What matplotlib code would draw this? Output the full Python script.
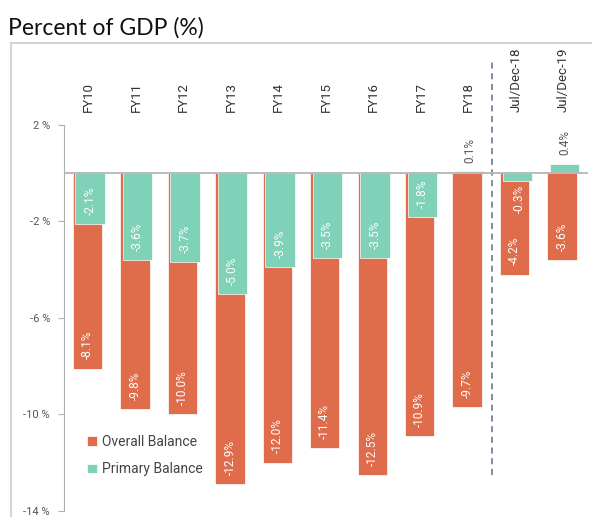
import matplotlib
matplotlib.use("Agg")
import matplotlib.pyplot as plt
from matplotlib.patches import Rectangle
import numpy as np

categories = ["FY10", "FY11", "FY12", "FY13", "FY14", "FY15", "FY16", "FY17", "FY18",
              "Jul/Dec-18", "Jul/Dec-19"]
overall = [-8.1, -9.8, -10.0, -12.9, -12.0, -11.4, -12.5, -10.9, -9.7, -4.2, -3.6]
primary = [-2.1, -3.6, -3.7, -5.0, -3.9, -3.5, -3.5, -1.8, 0.1, -0.3, 0.4]
yticks = [2, -2, -6, -10, -14]
ytick_labels = ["2 %", "-2 %", "-6 %", "-10 %", "-14 %"]
title = "Percent of GDP (%)"
series_names = ["Overall Balance", "Primary Balance"]

ORANGE = "#DF6D4B"
TEAL = "#7FD1B8"
GRAY = "#555555"

plt.rcParams['font.family'] = ['Roboto', 'DejaVu Sans']

fig = plt.figure(figsize=(5.92, 5.17), dpi=100)
ax = fig.add_axes([64/592, 1-510.7/517, (588-64)/592, (510.7-125.1)/517])

x = np.arange(len(categories))
w = 0.62
d = 0.028
b1 = ax.bar(x - d, overall, width=w, color=ORANGE, edgecolor="white", linewidth=0.5,
            label=series_names[0], zorder=2)
b2 = ax.bar(x + d, primary, width=w, color=TEAL, edgecolor="white", linewidth=0.5,
            label=series_names[1], zorder=3)

ax.set_xlim(-0.524, len(categories) - 0.48)
ax.set_ylim(-14, 2)

# zero line
ax.axhline(0, color="#b5b5b5", lw=1.3, zorder=4)

# value labels
def label_bars(xs, vals):
    for xi, v in zip(xs, vals):
        txt = f"{v:.1f}%"
        if v >= 0:
            ax.annotate(txt, (xi, v), xytext=(0, 6), textcoords="offset points",
                        rotation=90, ha="center", va="bottom", fontsize=8.5,
                        color=GRAY, zorder=5, annotation_clip=False)
        elif abs(v) < 1:
            ax.annotate(txt, (xi, v), xytext=(1.5, -3), textcoords="offset points",
                        rotation=90, ha="center", va="top", fontsize=8.5,
                        color="white", zorder=5)
        else:
            ax.annotate(txt, (xi, v), xytext=(0, 6.5), textcoords="offset points",
                        rotation=90, ha="center", va="bottom", fontsize=8.5,
                        color="white", zorder=5)

label_bars(x - d, overall)
label_bars(x + d, primary)

# category labels on top
for xi, c in zip(x, categories):
    ax.text(xi, 2.55, c, rotation=90, ha="center", va="bottom", fontsize=9.5,
            color="#333333", clip_on=False)

# dashed separator
ax.plot([8.5, 8.5], [-12.5, 4.6], ls=(0, (4, 3)), color="#5B6E88", lw=1.1,
        clip_on=False, zorder=1)

# axes styling
for s in ["top", "right", "bottom"]:
    ax.spines[s].set_visible(False)
ax.spines["left"].set_color("#b0b0b0")
ax.spines["left"].set_bounds(-14, 2)
ax.set_xticks([])
ax.set_yticks(yticks)
ax.set_yticklabels(ytick_labels)
ax.tick_params(axis="y", length=4, color="#b0b0b0", labelsize=8, labelcolor=GRAY, pad=6)

# legend
leg = ax.legend(handles=[b1, b2], loc="upper left", bbox_to_anchor=(0.02, 0.23),
                frameon=False, fontsize=10, labelcolor="#444444", handlelength=0.7,
                handleheight=0.7, handletextpad=0.4, labelspacing=1.0)

# outer light-gray frame
fig.patches.append(Rectangle((11/592, -0.1), 1.1, 1 - 43/517 + 0.1,
                             transform=fig.transFigure, fill=False,
                             edgecolor="#d5d5d5", lw=1.5, zorder=0))

fig.text(8/592, 1 - 35/517, title, fontsize=16.5, color="#111111", ha="left",
         va="baseline", family=["Lato", "DejaVu Sans"])

fig.savefig("out.png", dpi=100)
